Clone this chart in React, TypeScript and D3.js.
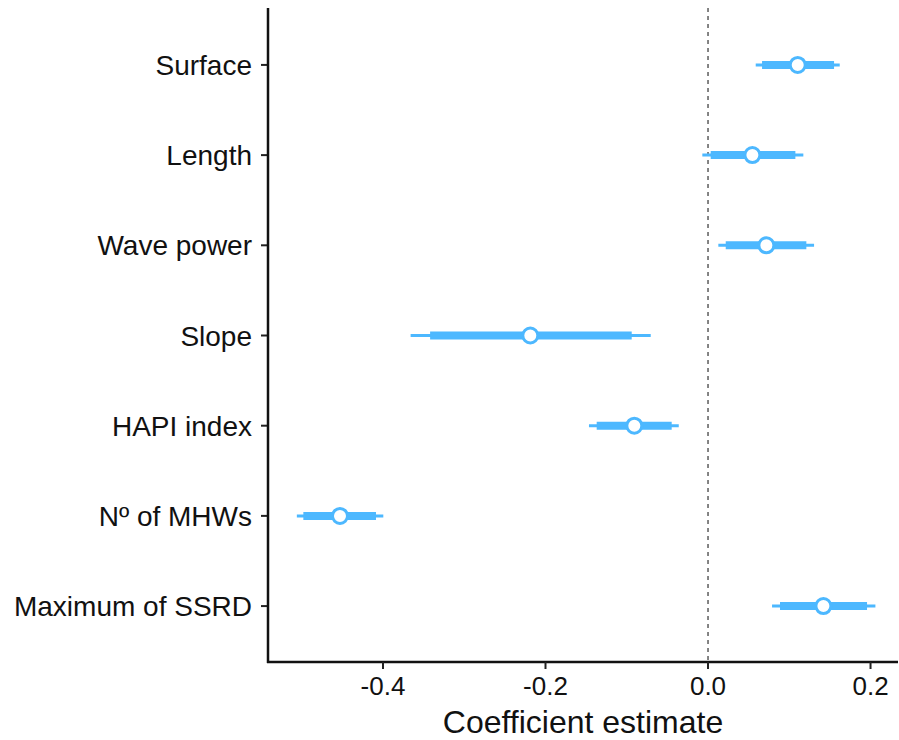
import React from "react";
import * as d3 from "d3";

const terms = ["Surface", "Length", "Wave power", "Slope", "HAPI index", "Nº of MHWs", "Maximum of SSRD"];
const estimate = [0.1104, 0.0546, 0.0718, -0.2187, -0.0907, -0.4529, 0.142];
const outerLow = [0.0587, -0.007, 0.0127, -0.366, -0.1465, -0.506, 0.0788];
const outerHigh = [0.1621, 0.1173, 0.1305, -0.0705, -0.036, -0.3996, 0.206];
const innerLow = [0.0665, 0.0033, 0.0218, -0.342, -0.137, -0.498, 0.0886];
const innerHigh = [0.1551, 0.1075, 0.121, -0.0939, -0.0447, -0.4086, 0.1957];
const xTicks = [-0.4, -0.2, 0.0, 0.2];
const xLabel = "Coefficient estimate";

const W = 899, H = 740;
const left = 268, right = 898, top = 8, bottom = 662;
const blue = "#4DB8FF";
const font = "Liberation Sans, Arial, sans-serif";

export default function App() {
  const x = d3.scaleLinear().domain([-0.5415, 0.2338]).range([left, right]);
  const y = d3.scalePoint<string>().domain(terms).range([top + 1, bottom]).padding(0.62);
  const fmt = (v: number) => d3.format(".1f")(v).replace("\u2212", "-");
  return (
    <svg width={W} height={H} style={{ position: "absolute", left: 0, top: 0, background: "#fff" }} fontFamily={font}>
      <line x1={x(0)} x2={x(0)} y1={top} y2={bottom} stroke="#333" strokeWidth={1.2} strokeDasharray="4,4" />
      {terms.map((t, i) => {
        const cy = y(t)!;
        return (
          <g key={t}>
            <line x1={x(outerLow[i])} x2={x(outerHigh[i])} y1={cy} y2={cy} stroke={blue} strokeWidth={3} />
            <line x1={x(innerLow[i])} x2={x(innerHigh[i])} y1={cy} y2={cy} stroke={blue} strokeWidth={8} />
            <circle cx={x(estimate[i])} cy={cy} r={7.5} fill="#fff" stroke={blue} strokeWidth={3} />
            <line x1={left - 7} x2={left} y1={cy} y2={cy} stroke="#222" strokeWidth={2} />
            <text x={left - 16} y={cy + 10} textAnchor="end" fontSize={28} fill="#111">{t}</text>
          </g>
        );
      })}
      <line x1={left} x2={left} y1={top} y2={bottom + 1} stroke="#111" strokeWidth={2.5} />
      <line x1={left - 1} x2={right} y1={bottom} y2={bottom} stroke="#111" strokeWidth={2.5} />
      {xTicks.map((v) => (
        <g key={v}>
          <line x1={x(v)} x2={x(v)} y1={bottom} y2={bottom + 7} stroke="#222" strokeWidth={2} />
          <text x={x(v)} y={695} textAnchor="middle" fontSize={26} fill="#111">{fmt(v)}</text>
        </g>
      ))}
      <text x={(left + right) / 2} y={733} textAnchor="middle" fontSize={32} fill="#111">{xLabel}</text>
    </svg>
  );
}
